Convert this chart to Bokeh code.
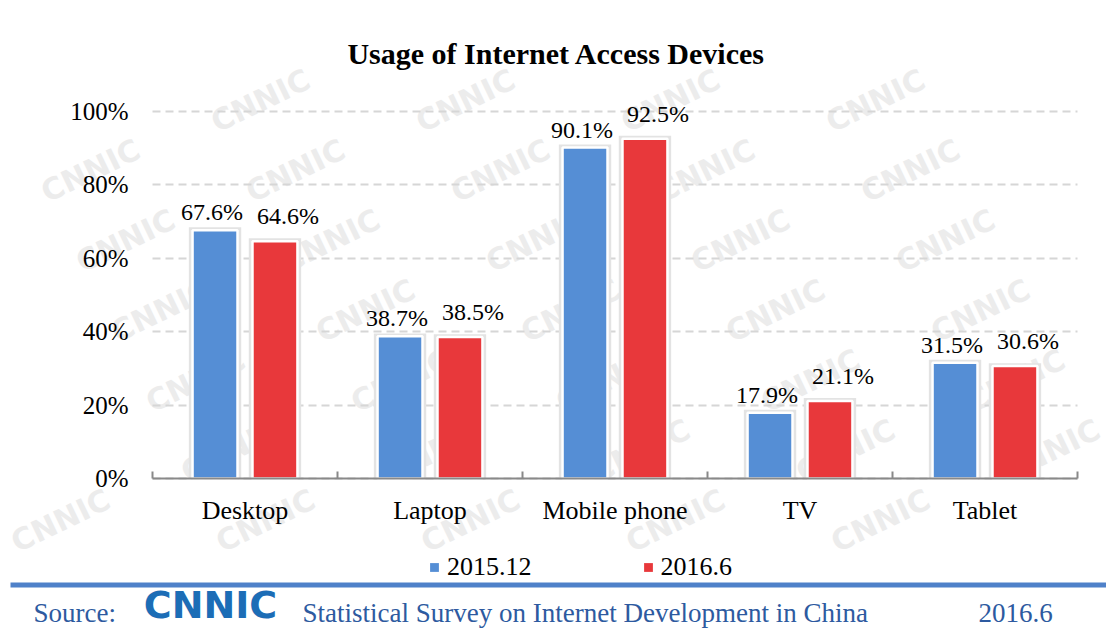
from bokeh.plotting import figure
from bokeh.models import (ColumnDataSource, FixedTicker, Label, Legend, LegendItem,
                          Range1d, BoxAnnotation)
from bokeh.core.properties import value
from bokeh.embed import file_html
from bokeh.resources import INLINE

# ---------------- data ----------------
categories = ["Desktop", "Laptop", "Mobile phone", "TV", "Tablet"]
series_names = ["2015.12", "2016.6"]
usage_2015_12 = [67.6, 38.7, 90.1, 17.9, 31.5]
usage_2016_6 = [64.6, 38.5, 92.5, 21.1, 30.6]
y_tick_values = [0, 20, 40, 60, 80, 100]
y_tick_labels = ["0%", "20%", "40%", "60%", "80%", "100%"]
title_text = "Usage of Internet Access Devices"
source_prefix = "Source:"
source_org = "CNNIC"
source_text = "Statistical Survey on Internet Development in China"
source_date = "2016.6"
watermark_text = "CNNIC"

# ---------------- layout (page pixels) ----------------
W, H = 1106, 628
PLOT_L, PLOT_R = 152, 1077      # x extent of the category axis
ZERO_Y, PX_PER_PCT = 478, 3.673  # y pixel of 0 % and pixels per percent
BLUE = "#558ed5"
RED = "#e8383b"
SRC_BLUE = "#2d5aa0"
SERIF = "Liberation Serif"
WM_COLOR = "#ececec"
GRID_COLOR = "#d6d6d6"

n = len(categories)
px_per_cat = (PLOT_R - PLOT_L) / n
centers = [i + 0.5 for i in range(n)]
bar_w = 0.243
dx = 0.162

x_start = -PLOT_L / px_per_cat
x_end = n + (W - PLOT_R) / px_per_cat
y_start = -(H - ZERO_Y) / PX_PER_PCT
y_end = ZERO_Y / PX_PER_PCT

p = figure(width=W, height=H, output_backend="svg", toolbar_location=None,
           x_range=Range1d(x_start, x_end), y_range=Range1d(y_start, y_end),
           min_border=0, min_border_left=0, min_border_right=0,
           min_border_top=0, min_border_bottom=0,
           background_fill_color="white", border_fill_color="white")
p.outline_line_color = None


def sx(px):   # page x -> frame screen units
    return px


def sy(py):   # page y -> frame screen units (y up)
    return H - py


# watermarks (only fully visible ones)
WM_HW, WM_HH = 56, 38
for j in range(-1, 10):
    for i in range(-1, 7):
        gx, gy = 20 + 205 * i + (j * 35) % 205, 30 + 70 * j
        if gx - WM_HW >= 0 and gx + WM_HW <= W and gy - WM_HH >= 0 and gy + WM_HH <= H - 40:
            p.add_layout(Label(x=sx(gx), y=sy(gy), x_units="screen", y_units="screen",
                               text=watermark_text, text_font="DejaVu Sans",
                               text_font_style="bold", text_font_size="30px",
                               text_color=WM_COLOR, angle=0.45, text_align="center",
                               text_baseline="middle", level="image"))

# grid lines, limited to the plot width
p.xgrid.visible = False
grid = p.ygrid[0]
if "cross_bounds" in grid.properties():
    grid.cross_bounds = (0, n)
    grid.grid_line_color = GRID_COLOR
    grid.grid_line_width = 2
    grid.grid_line_dash = "8 5"
else:
    grid.visible = False
    p.segment(x0=[0] * len(y_tick_values), x1=[n] * len(y_tick_values),
              y0=y_tick_values, y1=y_tick_values, line_color=GRID_COLOR,
              line_width=2, line_dash="8 5", level="underlay")

src = ColumnDataSource(dict(
    x1=[c - dx for c in centers], x2=[c + dx for c in centers],
    v1=usage_2015_12, v2=usage_2016_6,
    s1=[v + 0.8 for v in usage_2015_12], s2=[v + 0.8 for v in usage_2016_6],
    l1=[f"{v:.1f}%" for v in usage_2015_12], l2=[f"{v:.1f}%" for v in usage_2016_6],
))

# shadows
p.vbar(x="x1", top="s1", bottom=0, width=bar_w + 0.04, source=src,
       fill_color="#e3e3e3", line_color=None)
p.vbar(x="x2", top="s2", bottom=0, width=bar_w + 0.04, source=src,
       fill_color="#e3e3e3", line_color=None)
# bars
p.vbar(x="x1", top="v1", bottom=0, width=bar_w, source=src,
       fill_color=BLUE, line_color="white", line_width=2.5)
p.vbar(x="x2", top="v2", bottom=0, width=bar_w, source=src,
       fill_color=RED, line_color="white", line_width=2.5)

# value labels
p.text(x="x1", y="v1", text="l1", source=src, x_offset=-3, y_offset=-5,
       text_align="center", text_baseline="bottom", text_font=value(SERIF),
       text_font_size="24px", text_color="black")
p.text(x="x2", y="v2", text="l2", source=src, x_offset=13, y_offset=-12,
       text_align="center", text_baseline="bottom", text_font=value(SERIF),
       text_font_size="24px", text_color="black")

# axes, fixed inside the full-canvas frame
xa = p.xaxis[0]
xa.fixed_location = 0
xa.bounds = (0, n)
xa.ticker = FixedTicker(ticks=centers, minor_ticks=list(range(n + 1)))
xa.major_label_overrides = {c: cat for c, cat in zip(centers, categories)}
xa.axis_line_color = "#898989"
xa.axis_line_width = 2
xa.major_tick_line_color = None
xa.major_tick_in = 0
xa.major_tick_out = 0
xa.minor_tick_line_color = "#898989"
xa.minor_tick_line_width = 2
xa.minor_tick_in = 7
xa.minor_tick_out = 0
xa.major_label_text_font = SERIF
xa.major_label_text_font_size = "26px"
xa.major_label_text_color = "black"
xa.major_label_standoff = 17

ya = p.yaxis[0]
ya.fixed_location = 0
ya.bounds = (0, 100)
ya.ticker = FixedTicker(ticks=y_tick_values)
ya.major_label_overrides = {v: l for v, l in zip(y_tick_values, y_tick_labels)}
ya.axis_line_color = None
ya.major_tick_line_color = None
ya.major_tick_in = 0
ya.major_tick_out = 0
ya.minor_tick_line_color = None
ya.major_label_text_font = SERIF
ya.major_label_text_font_size = "25px"
ya.major_label_text_color = "black"
ya.major_label_standoff = 24

# title
p.add_layout(Label(x=sx(556), y=sy(53), x_units="screen", y_units="screen", text=title_text,
                   text_font=SERIF, text_font_style="bold", text_font_size="30px",
                   text_color="black", text_align="center", text_baseline="middle"))

# legend (square markers; one point each kept out of view)
m1 = p.scatter(x=[x_start - 1], y=[0], marker="square", size=9, fill_color=BLUE, line_color=None)
m2 = p.scatter(x=[x_start - 1], y=[0], marker="square", size=9, fill_color=RED, line_color=None)
leg = Legend(items=[LegendItem(label=series_names[0], renderers=[m1]),
                    LegendItem(label=series_names[1], renderers=[m2])],
             orientation="horizontal", location=(423, sy(583)),
             glyph_width=22, glyph_height=32, label_height=32, label_standoff=2,
             spacing=105, padding=0, margin=0, border_line_color=None,
             background_fill_alpha=0, label_text_font=SERIF, label_text_font_size="26px",
             label_text_color="black")
p.add_layout(leg, "center")

# footer rule
p.add_layout(BoxAnnotation(left=10, right=W, top=sy(582), bottom=sy(587),
                           left_units="screen", right_units="screen",
                           top_units="screen", bottom_units="screen",
                           fill_color="#4f81c9", fill_alpha=1, line_color=None))

# source line
for txt, px, py, font, style, size, color, align in [
    (source_prefix, 33, 612, SERIF, "normal", "27px", SRC_BLUE, "left"),
    (source_org, 210, 604, "DejaVu Sans", "bold", "38px", "#1c6db6", "center"),
    (source_text, 302, 612, SERIF, "normal", "27px", SRC_BLUE, "left"),
    (source_date, 978, 612, SERIF, "normal", "27px", SRC_BLUE, "left"),
]:
    p.add_layout(Label(x=sx(px), y=sy(py), x_units="screen", y_units="screen", text=txt,
                       text_font=font, text_font_style=style, text_font_size=size,
                       text_color=color, text_align=align, text_baseline="middle"))

open("out.html", "w").write(file_html(p, INLINE))
